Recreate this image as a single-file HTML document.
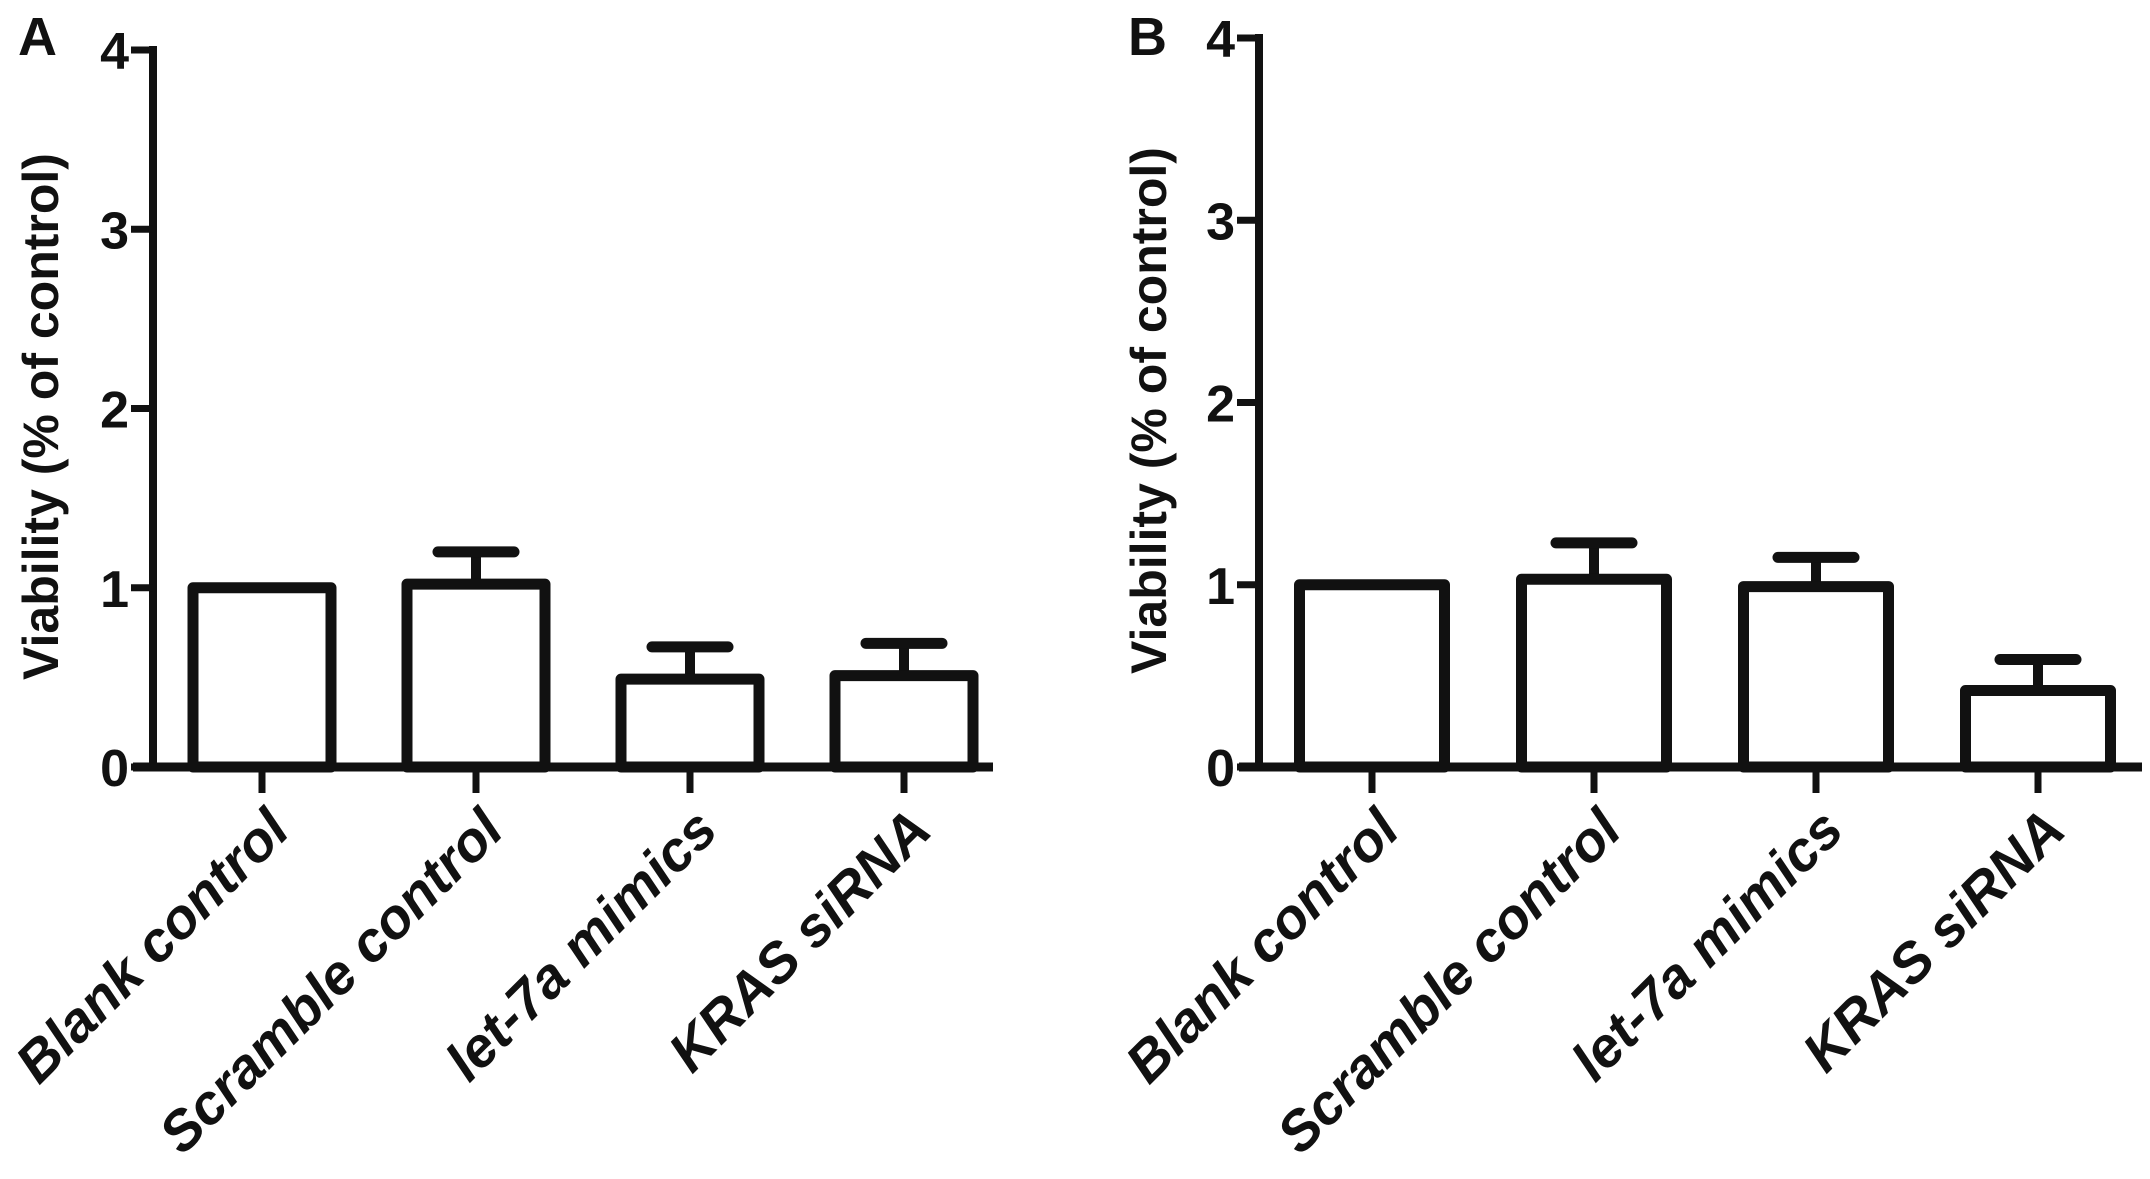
<!DOCTYPE html>
<html><head><meta charset="utf-8"><style>
html,body{margin:0;padding:0;background:#fff;}
svg{display:block;}
text{font-family:"Liberation Sans",Arial,sans-serif;font-weight:bold;fill:#111;}
</style></head>
<body>
<svg id="fig" width="2150" height="1179" viewBox="0 0 2150 1179" xmlns="http://www.w3.org/2000/svg">
<text x="18" y="55" font-size="54">A</text>
<text x="1128" y="55" font-size="54">B</text>
</svg>
<script>
const categories = ["Blank control","Scramble control","let-7a mimics","KRAS siRNA"];
const valuesA = [1.0, 1.02, 0.49, 0.51];
const errorsA = [0, 0.18, 0.18, 0.18];
const valuesB = [1.0, 1.03, 0.99, 0.42];
const errorsB = [0, 0.20, 0.16, 0.17];
const yTicks = [0,1,2,3,4];

const NS = "http://www.w3.org/2000/svg";
const svg = document.getElementById('fig');
function mk(tag, attrs, parent){
  const e = document.createElementNS(NS, tag);
  for (const k in attrs) e.setAttribute(k, attrs[k]);
  (parent||svg).appendChild(e);
  return e;
}

function panel(p){
  const g = mk('g', {});
  
  
  const y = v => p.zeroY - (v / 4) * (p.zeroY - p.topY);
  const x = i => p.firstX + i * p.step;
  const ya = mk('line', {x1:p.axisX, y1:p.topY-4, x2:p.axisX, y2:p.zeroY+4, stroke:'#111','stroke-width':8}, g);
  
  
  yTicks.forEach(t => {
    const tk = mk('line', {x1:p.axisX-22, y1:y(t), x2:p.axisX, y2:y(t), stroke:'#111','stroke-width':7}, g);
    
    
    const tl = mk('text', {x:p.axisX-24, y:y(t)+19, 'font-size':52, 'text-anchor':'end'}, g);
    tl.textContent = t;
    
    
  });
  const yt = mk('text', {x:0, y:0, 'font-size':50, 'text-anchor':'middle', transform:`translate(${p.titleX},${(p.zeroY+p.topY)/2+8}) rotate(-90)`}, g);
  yt.textContent = 'Viability (% of control)';
  
  
  p.values.forEach((v, i) => {
    const cx = x(i);
    const top = y(v);
    if (p.errors[i] > 0) {
      const et = y(v + p.errors[i]);
      const el = mk('line', {x1:cx, y1:top, x2:cx, y2:et, stroke:'#111','stroke-width':10}, g);
      
      
      const cap = mk('line', {x1:cx-38, y1:et, x2:cx+38, y2:et, stroke:'#111','stroke-width':11,'stroke-linecap':'round'}, g);
      
      
    }
    const r = mk('rect', {x:cx-p.barW/2, y:top, width:p.barW, height:p.zeroY-top, fill:'#fff', stroke:'#111','stroke-width':11,'stroke-linejoin':'round'}, g);
    
    
    const xt = mk('line', {x1:cx, y1:p.zeroY, x2:cx, y2:p.zeroY+26, stroke:'#111','stroke-width':7}, g);
    
    
    const lb = mk('text', {x:0, y:0, 'font-size':56, 'font-style':'italic', 'text-anchor':'end', transform:`translate(${cx+30},${p.zeroY+66}) rotate(-45)`}, g);
    lb.textContent = categories[i];
    
    
  });
  const xa = mk('line', {x1:p.axisX-20, y1:p.zeroY, x2:p.xEnd, y2:p.zeroY, stroke:'#111','stroke-width':9}, g);
  
  
}

panel({id:'panel-a', values:valuesA, errors:errorsA, axisX:153, topY:50, zeroY:767, firstX:262, step:214, barW:138, xEnd:993, titleX:58});
panel({id:'panel-b', values:valuesB, errors:errorsB, axisX:1259, topY:38, zeroY:767, firstX:1372, step:222, barW:145, xEnd:2142, titleX:1166});
</script>
</body></html>
